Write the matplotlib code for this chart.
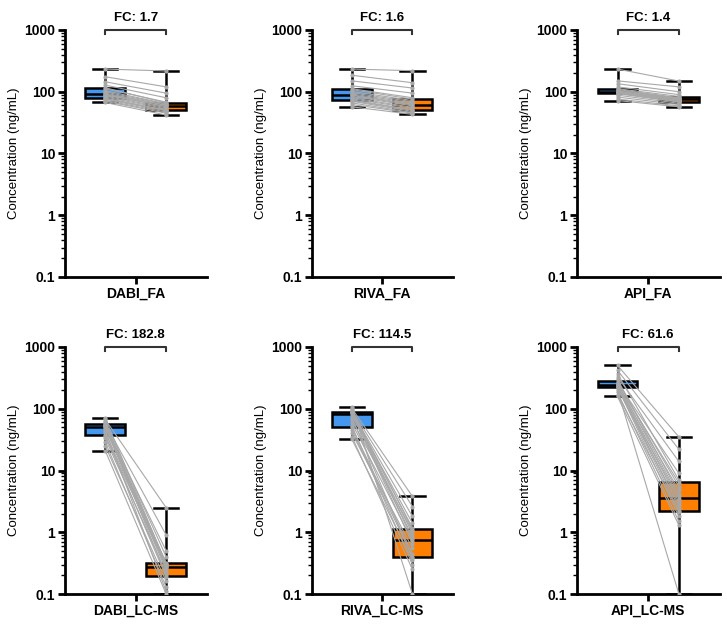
import numpy as np
import matplotlib
matplotlib.use("Agg")
import matplotlib.pyplot as plt
from matplotlib.ticker import LogLocator, FixedLocator, NullFormatter

plt.rcParams['font.family'] = ['Liberation Sans', 'DejaVu Sans']

# panel names and fold changes
names = ["DABI_FA", "RIVA_FA", "API_FA", "DABI_LC-MS", "RIVA_LC-MS", "API_LC-MS"]
fc_labels = ["1.7", "1.6", "1.4", "182.8", "114.5", "61.6"]

# paired concentrations (ng/mL), index i of each pair of lists = same sample
dabi_fa_a = [67, 70, 72, 75, 77, 79, 82, 85, 88, 90, 92, 95, 99, 104, 112, 116, 128, 145, 175, 233]
dabi_fa_b = [42, 45, 47, 49, 51, 50, 53, 55, 58, 57, 60, 61, 63, 64, 68, 66, 80, 95, 120, 217]
riva_fa_a = [57, 62, 66, 70, 72, 74, 77, 80, 84, 87, 89, 92, 96, 101, 108, 112, 125, 150, 185, 233]
riva_fa_b = [43, 45, 46, 48, 50, 51, 54, 56, 59, 61, 63, 66, 69, 72, 76, 80, 95, 115, 140, 219]
api_fa_a = [72, 76, 82, 88, 93, 95, 96, 97, 98, 98, 99, 101, 103, 106, 109, 112, 120, 135, 150, 233]
api_fa_b = [57, 59, 62, 65, 68, 69, 70, 72, 73, 74, 76, 77, 78, 79, 80, 84, 90, 100, 120, 149]
dabi_lc_a = [21, 25, 29, 33, 36, 38, 42, 45, 48, 51, 52, 53, 54, 55, 56, 58, 60, 63, 67, 71]
dabi_lc_b = [0.10, 0.16, 0.13, 0.22, 0.30, 0.19, 0.27, 0.11, 0.31, 0.24,
             0.50, 0.28, 0.20, 0.32, 0.26, 0.90, 0.29, 0.40, 2.5, 0.30]
riva_lc_a = [32, 35, 40, 45, 50, 52, 58, 65, 72, 80, 85, 86, 87, 88, 89, 91, 94, 97, 101, 106]
riva_lc_b = [0.35, 0.25, 0.55, 0.40, 0.45, 0.30, 0.72, 1.05, 0.38, 0.85,
             1.4, 0.65, 1.18, 0.95, 1.8, 0.77, 2.6, 1.10, 3.8, 0.10]
api_lc_a = [158, 170, 185, 200, 215, 224, 228, 233, 238, 243, 247, 252, 258, 266, 280, 300, 330, 370, 420, 504]
api_lc_b = [1.3, 2.1, 1.5, 0.10, 2.8, 1.8, 3.5, 2.2, 4.8, 3.1,
            2.5, 6.3, 3.8, 9.0, 5.5, 4.2, 14, 7.0, 22, 35]

pairs = [(dabi_fa_a, dabi_fa_b), (riva_fa_a, riva_fa_b), (api_fa_a, api_fa_b),
         (dabi_lc_a, dabi_lc_b), (riva_lc_a, riva_lc_b), (api_lc_a, api_lc_b)]

blue = "#4598f0"
orange = "#ff8000"
gray = "#a8a8a8"

fig = plt.figure(figsize=(7.27, 6.26), dpi=100)

lefts = [65, 312, 577]
widths = [142, 141, 143]
tops = [30, 347]
H = 247

for k in range(6):
    r, c = k // 3, k % 3
    ax = fig.add_axes([lefts[c] / 727, 1 - (tops[r] + H) / 626, widths[c] / 727, H / 626])
    a, b = pairs[k]

    bp = ax.boxplot([a, b], positions=[0, 1], widths=0.65, whis=(0, 100),
                    patch_artist=True, showfliers=False, manage_ticks=False,
                    medianprops=dict(color='black', lw=1.8),
                    whiskerprops=dict(color='black', lw=1.8),
                    capprops=dict(color='black', lw=1.8),
                    boxprops=dict(edgecolor='black', lw=1.8), zorder=2)
    bp['boxes'][0].set_facecolor(blue)
    bp['boxes'][1].set_facecolor(orange)
    for cap in bp['caps']:
        x = cap.get_xdata()
        m = x.mean()
        cap.set_xdata([m - 0.2, m + 0.2])

    for va, vb in zip(a, b):
        ax.plot([0, 1], [va, vb], color=gray, lw=0.8, marker='o', ms=2,
                mfc=gray, mec=gray, zorder=3)

    ax.set_yscale('log')
    ax.set_ylim(0.1, 1000)
    ax.set_xlim(-0.66, 1.67)
    ax.yaxis.set_major_locator(FixedLocator([0.1, 1, 10, 100, 1000]))
    ax.set_yticklabels(["0.1", "1", "10", "100", "1000"], fontweight='bold', fontsize=10)
    ax.yaxis.set_minor_locator(LogLocator(base=10, subs=np.arange(2, 10)))
    ax.yaxis.set_minor_formatter(NullFormatter())
    ax.set_xticks([0.5])
    ax.set_xticklabels([names[k]], fontweight='bold', fontsize=10)
    ax.set_ylabel("Concentration (ng/mL)", fontsize=9.5, labelpad=3)
    for s in ['top', 'right']:
        ax.spines[s].set_visible(False)
    for s in ['left', 'bottom']:
        ax.spines[s].set_linewidth(2)
    ax.tick_params(axis='both', which='major', width=2, length=5, pad=2)
    ax.tick_params(axis='y', which='minor', width=1, length=3)

    # FC bracket
    ax.plot([0, 0, 1, 1], [850, 1000, 1000, 850], color='#333333', lw=1.5, clip_on=False)
    ax.annotate("FC: " + fc_labels[k], xy=(0.5, 1000), xytext=(0, 4),
                textcoords='offset points', ha='center', va='bottom',
                fontweight='bold', fontsize=9.5, annotation_clip=False)

fig.savefig("out.png", dpi=100)
